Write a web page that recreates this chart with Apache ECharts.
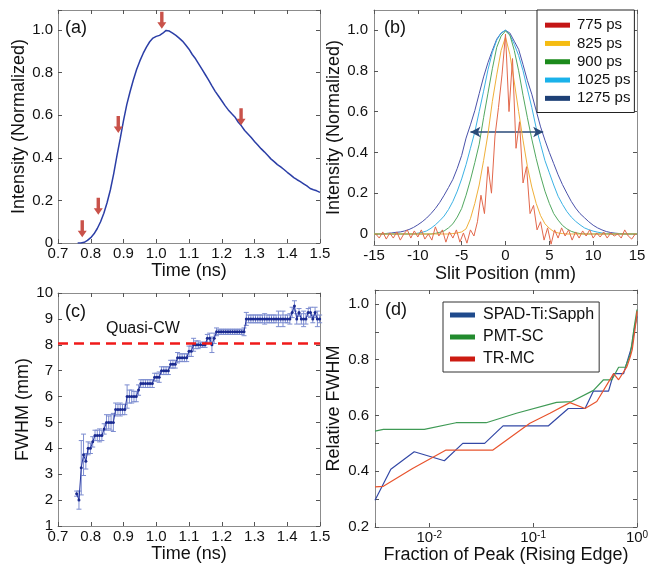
<!DOCTYPE html>
<html>
<head>
<meta charset="utf-8">
<title>Pulse profiles</title>
<script src="https://cdn.jsdelivr.net/npm/echarts@6/dist/echarts.min.js"></script>
<style>
  html, body { margin: 0; padding: 0; background: #fff; }
  #chart { width: 663px; height: 569px; }
</style>
</head>
<body>
<div id="chart"></div>
<script>
// ---- (a) temporal profile ----
var timeA = [0.76,0.77,0.78,0.79,0.80,0.81,0.82,0.83,0.84,0.85,0.86,0.87,0.88,0.89,0.90,0.91,0.92,0.93,0.94,0.95,
  0.96,0.97,0.98,0.99,1.00,1.01,1.02,1.03,1.04,1.05,1.06,1.07,1.08,1.09,1.10,1.11,1.12,1.13,1.14,1.15,
  1.16,1.17,1.18,1.19,1.20,1.21,1.22,1.23,1.24,1.25,1.26,1.27,1.28,1.29,1.30,1.31,1.32,1.33,1.34,1.35,
  1.36,1.37,1.38,1.39,1.40,1.41,1.42,1.43,1.44,1.45,1.46,1.47,1.48,1.49,1.50];
var intensityA = [0,0,0.003,0.012,0.025,0.043,0.068,0.1,0.14,0.19,0.25,0.325,0.41,0.49,0.575,0.65,0.71,0.765,0.815,0.855,
  0.89,0.92,0.945,0.962,0.97,0.975,0.985,0.998,0.995,0.985,0.975,0.962,0.948,0.93,0.91,0.885,0.865,0.84,0.815,0.79,
  0.765,0.738,0.712,0.69,0.668,0.645,0.625,0.608,0.592,0.568,0.55,0.528,0.512,0.495,0.477,0.46,0.443,0.428,0.412,0.395,
  0.382,0.368,0.357,0.345,0.332,0.32,0.307,0.297,0.288,0.278,0.268,0.256,0.25,0.245,0.238];
var arrowTime = [0.774, 0.823, 0.884, 1.017, 1.259];
var arrowTip = [0.027, 0.133, 0.516, 1.006, 0.553];

// ---- (b) spatial profiles ----
var slitX = [-15,-14.5,-14,-13.5,-13,-12.5,-12,-11.5,-11,-10.5,-10,-9.5,-9,-8.5,-8,-7.5,-7,-6.5,-6,-5.5,
  -5,-4.5,-4,-3.5,-3,-2.5,-2,-1.5,-1,-0.5,0,0.5,1,1.5,2,2.5,3,3.5,4,4.5,5,5.5,6,6.5,7,7.5,8,8.5,9,9.5,
  10,10.5,11,11.5,12,12.5,13,13.5,14,14.5,15];
var prof825 = [0,0,0,0,0,0,0,0,0,0, 0,0,0,0,0,0,0,0,0.002,0.005,
  0.01,0.025,0.075,0.15,0.24,0.36,0.49,0.65,0.78,0.9, 0.965,
  0.88,0.745,0.6,0.46,0.33,0.23,0.15,0.09,0.05,0.028, 0.012,0.005,0.002,0,0,0,0,0,0,0, 0,0,0,0,0,0,0,0,0,0];
var prof900 = [0,0,0,0,0,0,0,0,0,0, 0,0,0,0,0.003,0.008,0.015,0.03,0.05,0.083,
  0.125,0.19,0.265,0.35,0.44,0.57,0.69,0.81,0.915,0.97, 0.995,
  0.975,0.9,0.8,0.68,0.57,0.465,0.37,0.285,0.21,0.15, 0.1,0.068,0.042,0.025,0.013,0.006,0.002,0,0,0, 0,0,0,0,0,0,0,0,0,0];
var prof1025 = [0,0,0,0,0,0,0,0,0,0, 0.004,0.008,0.015,0.028,0.045,0.065,0.088,0.12,0.16,0.21,
  0.27,0.34,0.42,0.5,0.6,0.7,0.805,0.89,0.95,0.985, 1.0,
  0.975,0.93,0.875,0.8,0.71,0.62,0.52,0.44,0.36,0.3, 0.24,0.185,0.145,0.11,0.083,0.062,0.045,0.03,0.021,0.014,
  0.009,0.005,0.002,0,0,0,0,0,0,0];
var prof1275 = [0,0,0,0.003,0.005,0.008,0.01,0.015,0.022,0.032, 0.045,0.06,0.078,0.1,0.125,0.155,0.19,0.228,0.268,0.322,
  0.385,0.47,0.535,0.605,0.688,0.77,0.84,0.9,0.955,0.985, 0.998,
  0.985,0.945,0.905,0.83,0.752,0.685,0.605,0.525,0.46,0.4, 0.345,0.29,0.242,0.2,0.16,0.127,0.1,0.08,0.06,0.043,
  0.03,0.02,0.012,0.007,0.004,0.002,0.001,0,0,0];
var slitXRed = [-14.8,-14.4,-14,-13.6,-13.2,-12.8,-12.4,-12,-11.6,-11.2,-10.8,-10.4,-10,-9.6,-9.2,-8.8,-8.4,-8,-7.6,-7.2,
  -6.8,-6.4,-6,-5.6,-5.2,-4.8,-4.4,-4,-3.6,-3.2,-2.8,-2.4,-2,-1.6,-1.2,-0.8,-0.4,0,
  0.4,0.8,1.2,1.6,2,2.4,2.8,3.2,3.6,4,4.4,4.8,5.2,5.6,6,6.4,6.8,7.2,7.6,8,8.4,8.8,9.2,9.6,10,10.4,10.8,11.2,11.6,12,
  12.4,12.8,13.2,13.6,14,14.4,14.8];
var prof775 = [0,-0.02,0.01,-0.025,0.005,-0.02,0.01,-0.03,0,0.02,
  -0.02,0.015,-0.015,0.02,-0.025,0,-0.03,0.035,-0.01,0.02,
  -0.04,0.01,-0.02,0.02,-0.04,0.005,-0.045,0.02,-0.01,0.06,
  0.19,0.1,0.33,0.2,0.48,0.62,0.78, 0.98,
  0.6,0.86,0.42,0.55,0.25,0.33,0.1,0.14,0.02,0.06,
  -0.03,0.03,-0.05,0.02,-0.02,0.03,-0.01,0.02,-0.03,0.01,
  -0.02,0.015,-0.01,0.02,-0.02,0.005,-0.015,0.01,-0.02,0.005,
  -0.01,0,-0.02,0.02,-0.01,-0.025,0];
var fwhmArrow = [-4.0, 4.3];
var fwhmLevel = 0.5;
var bTicks = [0, 0.2, 0.4, 0.6, 0.8, 1.0];

// ---- (c) FWHM vs time ----
var timeC = [0.757,0.764,0.771,0.778,0.785,0.792,0.799,0.806,0.813,0.820,
  0.827,0.834,0.841,0.848,0.855,0.862,0.869,0.876,0.883,0.890,
  0.897,0.904,0.911,0.918,0.925,0.932,0.939,0.946,0.953,0.960,
  0.967,0.974,0.981,0.988,0.995,1.002,1.009,1.016,1.023,1.030,
  1.037,1.044,1.051,1.058,1.065,1.072,1.079,1.086,1.093,1.100,
  1.107,1.114,1.121,1.128,1.135,1.142,1.149,1.156,1.163,1.170,
  1.177,1.184,1.191,1.198,1.205,1.212,1.219,1.226,1.233,1.240,
  1.247,1.254,1.261,1.268,1.275,1.282,1.289,1.296,1.303,1.310,
  1.317,1.324,1.331,1.338,1.345,1.352,1.359,1.366,1.373,1.380,
  1.387,1.394,1.401,1.408,1.415,1.422,1.429,1.436,1.443,1.450,
  1.457,1.464,1.471,1.478,1.485,1.492,1.499];
var fwhmC = [2.25,2.0,3.25,3.75,3.5,4.0,4.0,4.25,4.5,4.5,
  4.5,4.5,4.75,5.0,5.0,5.0,5.0,5.5,5.5,5.5,
  5.5,5.5,6.0,6.0,6.0,6.0,6.0,6.25,6.5,6.5,
  6.5,6.5,6.5,6.5,6.75,6.75,6.75,7.0,7.0,7.0,
  7.0,7.25,7.25,7.25,7.5,7.5,7.5,7.5,7.5,7.75,
  7.75,8.0,8.0,8.0,8.0,8.0,8.0,8.25,8.25,8.0,
  8.25,8.5,8.5,8.5,8.5,8.5,8.5,8.5,8.5,8.5,
  8.5,8.5,8.5,8.5,9.0,9.0,9.0,9.0,9.0,9.0,
  9.0,9.0,9.0,9.0,9.0,9.0,9.0,9.0,9.0,9.0,
  9.0,9.0,9.0,9.0,9.25,9.5,9.0,9.25,9.0,9.0,
  9.0,9.25,9.25,9.0,9.25,9.0,9.0];
var errC = [0.1,0.35,1.05,0.8,0.3,0.25,0.2,0.2,0.2,0.2,
  0.25,0.2,0.2,0.3,0.25,0.3,0.35,0.25,0.2,0.25,
  0.2,0.2,0.45,0.25,0.25,0.2,0.2,0.2,0.15,0.15,
  0.15,0.15,0.15,0.15,0.15,0.15,0.2,0.15,0.15,0.15,
  0.15,0.15,0.15,0.15,0.2,0.15,0.15,0.15,0.15,0.2,
  0.2,0.25,0.15,0.15,0.1,0.1,0.1,0.15,0.2,0.3,
  0.2,0.15,0.1,0.1,0.1,0.1,0.1,0.1,0.1,0.1,
  0.1,0.1,0.1,0.15,0.25,0.15,0.15,0.15,0.15,0.15,
  0.15,0.15,0.2,0.15,0.15,0.15,0.15,0.15,0.3,0.15,
  0.3,0.15,0.15,0.2,0.2,0.2,0.2,0.15,0.2,0.3,
  0.2,0.15,0.2,0.15,0.2,0.3,0.15];
var quasiCW = 8.05;

// ---- (d) relative FWHM vs fraction of peak ----
var fracSpad = [0.003,0.00426,0.00716,0.01396,0.021,0.0341,0.0513,0.1396,0.218,0.316,0.381,0.532,0.595,0.743,0.83,0.895,0.942,1.0];
var relSpad = [0.296,0.407,0.47,0.4375,0.5,0.5,0.5625,0.5625,0.625,0.625,0.6875,0.6875,0.75,0.75,0.81,0.85,0.91,0.955];
var fracPmt = [0.003,0.00361,0.00895,0.0181,0.0353,0.069,0.168,0.235,0.381,0.476,0.573,0.665,0.771,0.861,0.942,1.0];
var relPmt = [0.544,0.55,0.55,0.574,0.574,0.608,0.647,0.65,0.69,0.728,0.728,0.773,0.773,0.818,0.92,0.98];
var fracTr = [0.003,0.00361,0.0069,0.0145,0.041,0.093,0.145,0.226,0.316,0.41,0.595,0.665,0.8,0.861,0.9,0.946,0.985,1.0];
var relTr = [0.344,0.346,0.41,0.476,0.476,0.572,0.608,0.646,0.625,0.65,0.75,0.728,0.775,0.81,0.836,0.895,0.944,0.974];

var FONT = '"Liberation Sans", Arial, sans-serif';
var TXT = '#111';
var FRAME = '#8c8c8c';

function zip(a, b) {
  return a.map(function (v, i) { return [v, b[i]]; });
}

function axes(dim, gi, c) {
  var common = {
    gridIndex: gi, type: c.type || 'value', min: c.min, max: c.max, interval: c.interval,
    logBase: c.logBase, splitLine: { show: false },
    axisLine: { show: true, onZero: false, lineStyle: { color: FRAME, width: 1 } },
    axisTick: { show: true, inside: true, length: 4, lineStyle: { color: '#555' }, customValues: c.ticks }
  };
  var main = Object.assign({}, common, {
    position: dim === 'x' ? 'bottom' : 'left',
    name: c.name, nameLocation: 'middle', nameGap: c.gap,
    nameTextStyle: { fontFamily: FONT, fontSize: 18, color: TXT },
    axisLabel: { margin: c.margin, fontFamily: FONT, fontSize: 15, color: TXT, formatter: c.fmt,
      customValues: c.ticks, rich: c.rich, showMinLabel: true, showMaxLabel: true, hideOverlap: false }
  });
  var mirror = Object.assign({}, common, {
    position: dim === 'x' ? 'top' : 'right', axisLabel: { show: false }
  });
  return [main, mirror];
}

function oneDec(v) { return v === 0 ? '0' : v.toFixed(1); }

var xa = axes('x', 0, { min: 0.7, max: 1.5, interval: 0.1, name: 'Time (ns)', gap: 19, margin: 3, fmt: oneDec });
var ya = axes('y', 0, { min: 0, max: 1.094, interval: 0.2, name: 'Intensity (Normalized)', gap: 25, margin: 5,
  fmt: function (v) { return v > 1.001 ? '' : oneDec(v); } });
var xb = axes('x', 1, { min: -15, max: 15, interval: 5, name: 'Slit Position (mm)', gap: 20, margin: 3 });
var yb = axes('y', 1, { min: -0.054, max: 1.098, ticks: bTicks, name: 'Intensity (Normalized)', gap: 29, margin: 6, fmt: oneDec });
var xc = axes('x', 2, { min: 0.7, max: 1.5, interval: 0.1, name: 'Time (ns)', gap: 18, margin: 3, fmt: oneDec });
var yc = axes('y', 2, { min: 1, max: 10, interval: 1, name: 'FWHM (mm)', gap: 24, margin: 5 });
var xd = axes('x', 3, { type: 'log', logBase: 10, min: 0.003, max: 1, name: 'Fraction of Peak (Rising Edge)', gap: 18, margin: 3,
  fmt: function (v) {
    var l = Math.log10(v), e = Math.round(l);
    return Math.abs(l - e) > 1e-6 ? '' : '10{sup|' + e + '}';
  },
  rich: { sup: { fontSize: 10, verticalAlign: 'top', fontFamily: FONT, color: TXT } } });
var yd = axes('y', 3, { min: 0.2, max: 1.05, interval: 0.1, name: 'Relative FWHM', gap: 32, margin: 6,
  fmt: function (v) {
    var k = Math.round(v * 10);
    return (v > 1.001 || k % 2 !== 0) ? '' : v.toFixed(1);
  } });

function renderErr(params, api) {
  var x = api.value(0), y = api.value(1), e = api.value(2);
  var hi = api.coord([x, y + e]), lo = api.coord([x, y - e]);
  var w = 2.5;
  var st = { stroke: '#7d8dd0', lineWidth: 1 };
  return { type: 'group', children: [
    { type: 'line', shape: { x1: hi[0], y1: hi[1], x2: lo[0], y2: lo[1] }, style: st },
    { type: 'line', shape: { x1: hi[0] - w, y1: hi[1], x2: hi[0] + w, y2: hi[1] }, style: st },
    { type: 'line', shape: { x1: lo[0] - w, y1: lo[1], x2: lo[0] + w, y2: lo[1] }, style: st }
  ] };
}

// down-pointing arrow, tip at the bottom
var ARROW = 'path://M2.8,0 L6.2,0 L6.2,10.5 L9,10.5 L4.5,17 L0,10.5 L2.8,10.5 Z';

function profLine(name, xs, ys, lineColor, legendColor, z) {
  return { name: name, type: 'line', xAxisIndex: 1, yAxisIndex: 1, data: zip(xs, ys),
    symbol: 'none', z: z, lineStyle: { color: lineColor, width: 1 }, itemStyle: { color: legendColor } };
}
function relLine(name, xs, ys, lineColor, legendColor) {
  return { name: name, type: 'line', xAxisIndex: 3, yAxisIndex: 3, data: zip(xs, ys),
    symbol: 'none', lineStyle: { color: lineColor, width: 1.2 }, itemStyle: { color: legendColor } };
}

var profNavy = profLine('1275 ps', slitX, prof1275, '#4a52aa', '#1e4076', 2);
profNavy.markLine = {
  silent: true, symbol: ['arrow', 'arrow'], symbolSize: [8, 10],
  lineStyle: { color: '#2a4a78', width: 1.5, type: 'solid' }, label: { show: false },
  data: [[{ coord: [fwhmArrow[0], fwhmLevel] }, { coord: [fwhmArrow[1], fwhmLevel] }]]
};

var chart = echarts.init(document.getElementById('chart'), null, { renderer: 'canvas' });
chart.setOption({
  animation: false,
  backgroundColor: '#fff',
  textStyle: { fontFamily: FONT },
  grid: [
    { left: 58, top: 10, width: 262, height: 233 },
    { left: 374, top: 10, width: 263, height: 235 },
    { left: 58, top: 293, width: 262, height: 233 },
    { left: 375, top: 290, width: 262, height: 237 }
  ],
  xAxis: [xa[0], xb[0], xc[0], xd[0], xa[1], xb[1], xc[1], xd[1]],
  yAxis: [ya[0], yb[0], yc[0], yd[0], ya[1], yb[1], yc[1], yd[1]],
  legend: [
    {
      orient: 'vertical', left: 537, top: 10, selectedMode: false,
      data: [
        { name: '775 ps', itemStyle: { color: '#c41515' } },
        { name: '825 ps', itemStyle: { color: '#f5bc12' } },
        { name: '900 ps', itemStyle: { color: '#1b8a1b' } },
        { name: '1025 ps', itemStyle: { color: '#1ab2ea' } },
        { name: '1275 ps', itemStyle: { color: '#1e4076' } }
      ],
      icon: 'rect', itemWidth: 25, itemHeight: 5, itemGap: 0,
      textStyle: { fontFamily: FONT, fontSize: 15, color: TXT, lineHeight: 18.3, padding: [0, 0, 0, 2] },
      padding: [6, 4, 5, 8], backgroundColor: '#fff', borderColor: '#222', borderWidth: 1
    },
    {
      orient: 'vertical', left: 443, top: 302, selectedMode: false,
      data: [
        { name: 'SPAD-Ti:Sapph', itemStyle: { color: '#1f4a8c' } },
        { name: 'PMT-SC', itemStyle: { color: '#228b2e' } },
        { name: 'TR-MC', itemStyle: { color: '#cc1b12' } }
      ],
      icon: 'rect', itemWidth: 25, itemHeight: 5, itemGap: 0,
      textStyle: { fontFamily: FONT, fontSize: 16, color: TXT, lineHeight: 22, padding: [0, 0, 0, 3] },
      padding: [2, 5, 2, 7], backgroundColor: '#fff', borderColor: '#333', borderWidth: 1
    }
  ],
  graphic: [
    { type: 'text', left: 65, top: 19, style: { text: '(a)', fontFamily: FONT, fontSize: 18, fill: TXT } },
    { type: 'text', left: 384, top: 19, style: { text: '(b)', fontFamily: FONT, fontSize: 18, fill: TXT } },
    { type: 'text', left: 65, top: 303, style: { text: '(c)', fontFamily: FONT, fontSize: 18, fill: TXT } },
    { type: 'text', left: 385, top: 301, style: { text: '(d)', fontFamily: FONT, fontSize: 18, fill: TXT } },
    { type: 'text', left: 106, top: 321, style: { text: 'Quasi-CW', fontFamily: FONT, fontSize: 16, fill: TXT } }
  ],
  series: [
    { name: 'profile', type: 'line', xAxisIndex: 0, yAxisIndex: 0, data: zip(timeA, intensityA),
      symbol: 'none', lineStyle: { color: '#2b3ea6', width: 1.5 } },
    { name: 'arrows', type: 'scatter', xAxisIndex: 0, yAxisIndex: 0, data: zip(arrowTime, arrowTip),
      symbol: ARROW, symbolSize: [9, 17], symbolOffset: [0, -8.5],
      itemStyle: { color: '#c9524a', opacity: 1 }, z: 5 },

    profNavy,
    profLine('1025 ps', slitX, prof1025, '#3cb2e4', '#1ab2ea', 3),
    profLine('900 ps', slitX, prof900, '#52a860', '#1b8a1b', 4),
    profLine('825 ps', slitX, prof825, '#f0b03a', '#f5bc12', 5),
    profLine('775 ps', slitXRed, prof775, '#e2684c', '#c41515', 6),

    { name: 'fwhm-err', type: 'custom', xAxisIndex: 2, yAxisIndex: 2, renderItem: renderErr,
      data: timeC.map(function (t, i) { return [t, fwhmC[i], errC[i]]; }), z: 2 },
    { name: 'fwhm', type: 'line', xAxisIndex: 2, yAxisIndex: 2, data: zip(timeC, fwhmC),
      symbol: 'circle', symbolSize: 3, lineStyle: { color: '#2535a0', width: 1 },
      itemStyle: { color: '#1a2a90' }, z: 3,
      markLine: { silent: true, symbol: 'none', label: { show: false },
        lineStyle: { color: '#f01a1a', width: 2.5, type: [10, 6] },
        data: [{ yAxis: quasiCW }] } },

    relLine('SPAD-Ti:Sapph', fracSpad, relSpad, '#3348a6', '#1f4a8c'),
    relLine('PMT-SC', fracPmt, relPmt, '#3f9a55', '#228b2e'),
    relLine('TR-MC', fracTr, relTr, '#e8542e', '#cc1b12')
  ]
});
</script>
</body>
</html>
